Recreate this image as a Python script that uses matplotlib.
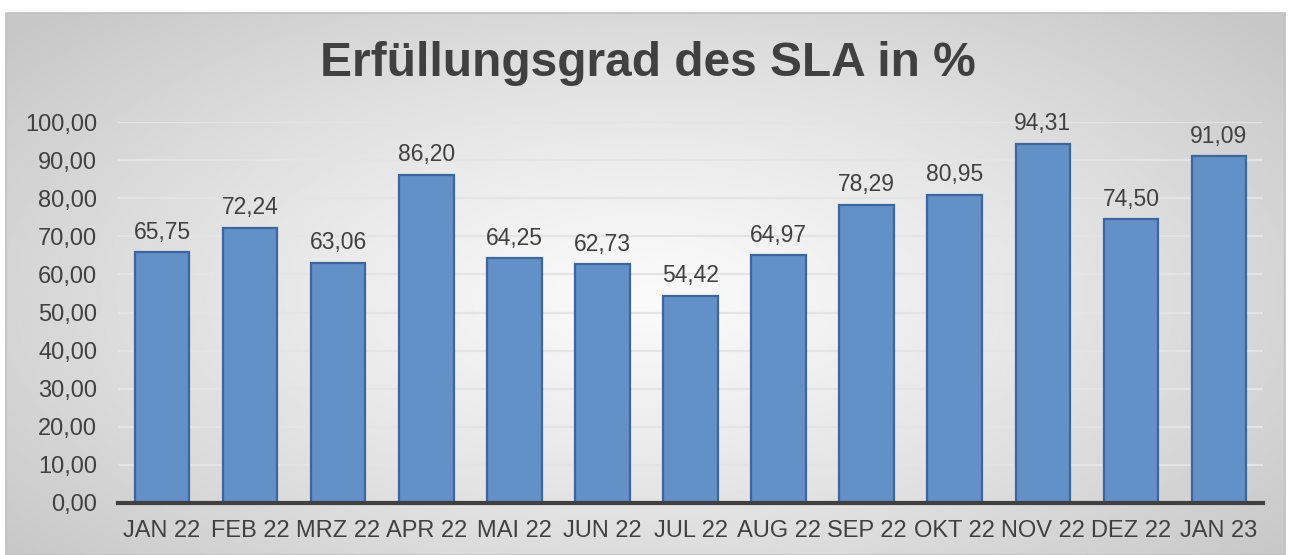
import numpy as np
import matplotlib.pyplot as plt
from matplotlib.patches import Rectangle

plt.rcParams['font.family'] = ['Liberation Sans', 'DejaVu Sans']

months = ["JAN 22", "FEB 22", "MRZ 22", "APR 22", "MAI 22", "JUN 22", "JUL 22",
          "AUG 22", "SEP 22", "OKT 22", "NOV 22", "DEZ 22", "JAN 23"]
values = [65.75, 72.24, 63.06, 86.20, 64.25, 62.73, 54.42,
          64.97, 78.29, 80.95, 94.31, 74.50, 91.09]
yticks = [0, 10, 20, 30, 40, 50, 60, 70, 80, 90, 100]

W, H = 1291, 555
fig = plt.figure(figsize=(W / 100, H / 100), dpi=100)
fig.patch.set_facecolor("white")

# radial gradient background in the chart box
x0, x1, y0, y1 = 6, 1285, 13, 555
bg = fig.add_axes([x0 / W, 1 - y1 / H, (x1 - x0) / W, (y1 - y0) / H])
gx, gy = np.meshgrid(np.linspace(-1, 1, 600), np.linspace(-1, 1, 260))
r = np.sqrt(((gx - 0.0) / 1.0) ** 2 + ((gy - 0.05) / 1.15) ** 2)
shade = 0.98 - 0.2 * np.clip(r / 1.3, 0, 1) ** 1.2
bg.imshow(shade, cmap="gray", vmin=0, vmax=1, aspect="auto",
          extent=[0, 1, 0, 1], interpolation="bilinear")
bg.set_axis_off()
fig.patches.append(Rectangle((x0 / W, 1 - y1 / H), (x1 - x0) / W, (y1 - y0) / H,
                             transform=fig.transFigure, fill=False,
                             edgecolor="#c0c0c0", linewidth=1.2, zorder=5))

ax = fig.add_axes([118 / W, 1 - 503 / H, (1263 - 118) / W, (503 - 122) / H])
ax.patch.set_alpha(0)
x = np.arange(len(months))
bars = ax.bar(x, values, width=0.62, color="#6390c6", edgecolor="#3b66a0",
              linewidth=1.6, zorder=3)
for xi, v in zip(x, values):
    ax.annotate(f"{v:.2f}".replace(".", ","), (xi, v), xytext=(0, 6),
                textcoords="offset points", ha="center", va="bottom",
                fontsize=16.5, color="#404040", clip_on=False)

ax.set_xlim(-0.5, len(months) - 0.5)
ax.set_ylim(0, 100)
ax.set_yticks(yticks)
ax.set_yticklabels([f"{t:.2f}".replace(".", ",") for t in yticks])
ax.set_xticks(x)
ax.set_xticklabels(months)
ax.tick_params(axis="both", length=0, labelsize=17, labelcolor="#404040")
ax.tick_params(axis="y", pad=15)
ax.tick_params(axis="x", pad=12)
ax.grid(axis="y", color="#e4e4e4", linewidth=1.6, zorder=0)
for s in ["top", "right", "left"]:
    ax.spines[s].set_visible(False)
ax.spines["bottom"].set_color("#404040")
ax.spines["bottom"].set_linewidth(3)
ax.spines["bottom"].set_zorder(4)

fig.text(648 / W, 1 - 64 / H, "Erfüllungsgrad des SLA in %", ha="center",
         va="center", fontsize=34.5, fontweight="bold", color="#404040")

plt.savefig("out.png", dpi=100)
